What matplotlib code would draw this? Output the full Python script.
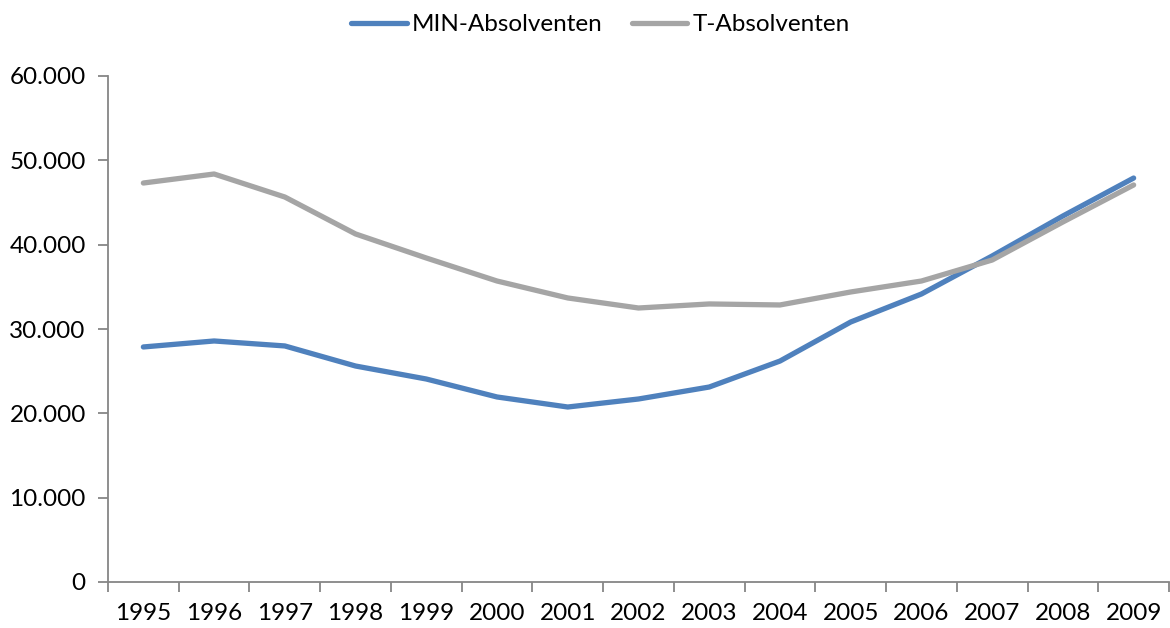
import matplotlib
matplotlib.use("Agg")
import matplotlib.pyplot as plt
from matplotlib.ticker import FuncFormatter

years = ["1995", "1996", "1997", "1998", "1999", "2000", "2001", "2002",
         "2003", "2004", "2005", "2006", "2007", "2008", "2009"]
min_absolventen = [27870, 28580, 27990, 25610, 24070, 21940, 20750, 21700,
                   23120, 26200, 30830, 34150, 38660, 43400, 47900]
t_absolventen = [47310, 48380, 45650, 41270, 38420, 35690, 33680, 32490,
                 32970, 32850, 34390, 35690, 38180, 42690, 47080]

plt.rcParams['font.family'] = ['Lato', 'DejaVu Sans']

fig = plt.figure(figsize=(11.7, 6.28), dpi=100)
ax = fig.add_axes([108/1170, 1 - 582/628, 1 - 108/1170 - 1/1170, (582 - 76)/628])

x = list(range(len(years)))
ax.plot(x, min_absolventen, color="#4F81BD", lw=3.8, solid_capstyle="round",
        label="MIN-Absolventen")
ax.plot(x, t_absolventen, color="#A5A5A5", lw=3.8, solid_capstyle="round",
        label="T-Absolventen")

ax.set_xlim(-0.5, len(years) - 0.5)
ax.set_ylim(0, 60000)
ax.set_yticks(range(0, 60001, 10000))
ax.yaxis.set_major_formatter(FuncFormatter(lambda v, p: f"{int(v):,}".replace(",", ".")))
ax.set_xticks(x)
ax.set_xticklabels(years)
ax.set_xticks([i - 0.5 for i in range(len(years) + 1)], minor=True)
ax.tick_params(axis='x', which='major', length=0, pad=15, labelsize=17.5)
ax.tick_params(axis='x', which='minor', length=7, width=1.3, color="#868686")
ax.tick_params(axis='y', length=7, width=1.3, color="#868686", pad=9, labelsize=17.5)

for s in ["top", "right"]:
    ax.spines[s].set_visible(False)
for s in ["left", "bottom"]:
    ax.spines[s].set_color("#868686")
    ax.spines[s].set_linewidth(1.3)

fig.legend(loc="upper center", bbox_to_anchor=(0.513, 1.012), ncol=2, frameon=False,
           fontsize=17.5, handlelength=2.3, handletextpad=0.2, columnspacing=1.2)

fig.savefig("out.png", dpi=100)
